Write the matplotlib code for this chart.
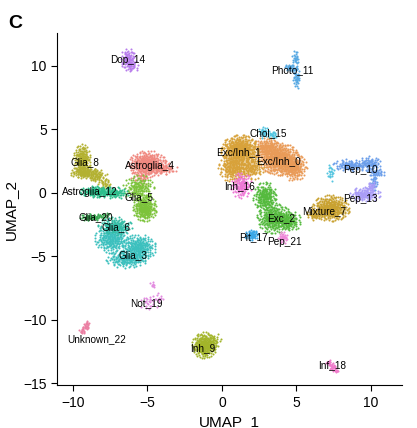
import matplotlib
matplotlib.use('Agg')
import matplotlib.pyplot as plt
import numpy as np

plt.rcParams['font.family'] = ['Liberation Sans', 'DejaVu Sans']

# 簇名、颜色、标签位置
cluster_names = ['Exc/Inh_0', 'Exc/Inh_1', 'Exc_2', 'Glia_3', 'Astroglia_4', 'Glia_5',
                 'Glia_6', 'Mixture_7', 'Glia_8', 'Inh_9', 'Pep_10', 'Photo_11',
                 'Astroglia_12', 'Pep_13', 'Dop_14', 'Chol_15', 'Inh_16', 'Pit_17',
                 'Inf_18', 'Not_19', 'Glia_20', 'Pep_21', 'Unknown_22']
cluster_colors = ['#E99B58', '#D8A23A', '#55BA3E', '#3CC0BE', '#F0877F', '#7CC33A',
                  '#33BDA6', '#C9A231', '#B3B131', '#A3B52A', '#6B9EEA', '#56A8E3',
                  '#2DBE8C', '#A99CF7', '#B77CEB', '#54C5E0', '#EE78D6', '#3BA7E6',
                  '#F07BCB', '#E28BE0', '#3DAA55', '#EE88D8', '#EB7FA3']
label_x = [3.8, 1.1, 4.0, -6.0, -4.8, -5.55, -7.1, 6.9, -9.2, -1.3, 9.3, 4.7,
           -8.9, 9.3, -6.3, 3.1, 1.2, 2.1, 7.4, -5.1, -8.5, 4.2, -8.4]
label_y = [2.5, 3.2, -2.0, -4.9, 2.1, -0.3, -2.7, -1.4, 2.4, -12.2, 1.8, 9.7,
           0.1, -0.5, 10.5, 4.7, 0.5, -3.5, -13.6, -8.7, -1.9, -3.9, -11.5]

# 每个簇由几个小团组成: 所属簇, 中心, 宽度, 点数
blob_cluster = [14, 14,
                11, 11, 11, 11,
                8, 8, 8, 8,
                12, 12,
                4, 4, 4,
                5, 5,
                20, 20,
                6,
                3, 3, 3,
                19, 19, 19,
                22, 22, 22,
                9, 9,
                18, 18, 18,
                15, 15, 15,
                1, 1, 1,
                0, 0, 0,
                16,
                2, 2, 2,
                17,
                21,
                7, 7,
                10, 10, 10, 10,
                13, 13]
blob_x = [-6.3, -6.0,
          4.95, 4.6, 5.0, 4.9,
          -9.4, -9.2, -8.4, -7.8,
          -8.3, -7.1,
          -5.0, -3.9, -5.4,
          -5.6, -5.2,
          -8.8, -8.0,
          -7.2,
          -7.4, -5.6, -6.4,
          -4.65, -4.9, -4.2,
          -9.05, -9.2, -9.4,
          -1.2, -0.6,
          7.2, 7.45, 7.65,
          2.8, 3.4, 7.3,
          1.2, 0.8, 2.0,
          3.8, 4.8, 3.0,
          1.3,
          2.9, 3.5, 4.5,
          2.0,
          4.1,
          7.3, 6.2,
          8.6, 9.9, 10.4, 10.2,
          9.6, 10.0]
blob_y = [10.5, 10.0,
          10.6, 9.9, 9.0, 9.7,
          2.6, 1.6, 1.3, 0.7,
          0.1, 0.0,
          2.3, 1.9, 1.3,
          0.4, -1.2,
          -1.9, -1.8,
          -2.6,
          -3.6, -4.3, -5.2,
          -7.2, -8.6, -8.3,
          -10.3, -10.6, -10.9,
          -12.0, -11.7,
          -13.4, -13.7, -14.0,
          4.8, 4.6, 1.6,
          3.4, 2.0, 2.0,
          2.7, 2.0, 3.6,
          0.6,
          -0.3, -2.0, -2.2,
          -3.3,
          -3.5,
          -1.2, -1.7,
          2.2, 2.3, 1.6, 0.9,
          -0.1, 0.5]
blob_sx = [0.22, 0.2,
           0.12, 0.2, 0.12, 0.1,
           0.25, 0.45, 0.3, 0.2,
           0.55, 0.35,
           0.55, 0.4, 0.3,
           0.45, 0.35,
           0.35, 0.3,
           0.5,
           0.5, 0.5, 0.6,
           0.08, 0.3, 0.15,
           0.08, 0.1, 0.1,
           0.35, 0.25,
           0.1, 0.12, 0.08,
           0.15, 0.15, 0.12,
           0.55, 0.45, 0.35,
           0.6, 0.4, 0.4,
           0.3,
           0.35, 0.5, 0.35,
           0.2,
           0.15,
           0.55, 0.25,
           0.5, 0.35, 0.25, 0.12,
           0.45, 0.15]
blob_sy = [0.4, 0.2,
           0.3, 0.12, 0.35, 0.1,
           0.55, 0.2, 0.25, 0.2,
           0.2, 0.2,
           0.45, 0.2, 0.3,
           0.45, 0.45,
           0.12, 0.12,
           0.3,
           0.5, 0.45, 0.3,
           0.15, 0.3, 0.2,
           0.12, 0.12, 0.1,
           0.45, 0.3,
           0.12, 0.12, 0.08,
           0.2, 0.15, 0.3,
           0.5, 0.5, 0.4,
           0.55, 0.45, 0.35,
           0.45,
           0.5, 0.5, 0.35,
           0.2,
           0.2,
           0.45, 0.2,
           0.2, 0.25, 0.15, 0.35,
           0.25, 0.2]
blob_n = [90, 20,
          25, 25, 35, 10,
          200, 120, 60, 25,
          170, 60,
          350, 60, 40,
          150, 230,
          60, 20,
          150,
          250, 250, 180,
          8, 25, 10,
          12, 15, 12,
          250, 40,
          15, 20, 10,
          30, 20, 20,
          500, 250, 120,
          550, 200, 150,
          120,
          200, 300, 120,
          60,
          35,
          350, 40,
          100, 90, 30, 35,
          120, 25]


def halton(idx, base):
    out = np.zeros(len(idx))
    f = np.ones(len(idx))
    i = idx.copy()
    while np.any(i > 0):
        f = f / base
        out += f * (i % base)
        i = i // base
    return out


fig = plt.figure(figsize=(4.17, 4.28), dpi=100)
ax = fig.add_axes([0.137, 0.100, 0.827, 0.823])

px = [[] for _ in cluster_names]
py = [[] for _ in cluster_names]
start = 1
for c, x0, y0, sx, sy, n in zip(blob_cluster, blob_x, blob_y, blob_sx, blob_sy, blob_n):
    idx = np.arange(start, start + n)
    start += n
    u1 = halton(idx, 2)
    u2 = halton(idx, 3)
    r = np.minimum(np.sqrt(-2 * np.log(np.maximum(u1, 1e-9))), 2.3)
    px[c].extend(x0 + sx * r * np.cos(2 * np.pi * u2))
    py[c].extend(y0 + sy * r * np.sin(2 * np.pi * u2))

for k in range(len(cluster_names)):
    ax.scatter(px[k], py[k], s=2.2, color=cluster_colors[k], linewidths=0)

for name, lx, ly in zip(cluster_names, label_x, label_y):
    ax.text(lx, ly, name, fontsize=7.2, ha='center', va='center', color='black')

ax.set_xlim(-11.07, 12.1)
ax.set_ylim(-15.15, 12.6)
ax.set_xticks([-10, -5, 0, 5, 10])
ax.set_yticks([-15, -10, -5, 0, 5, 10])
ax.spines['top'].set_visible(False)
ax.spines['right'].set_visible(False)
ax.tick_params(labelsize=10, length=4, width=0.8)
ax.set_xlabel('UMAP_1', fontsize=11)
ax.set_ylabel('UMAP_2', fontsize=11)

fig.text(0.02, 0.965, 'C', fontsize=14, fontweight='bold', ha='left', va='top')

fig.savefig('out.png', dpi=100)
